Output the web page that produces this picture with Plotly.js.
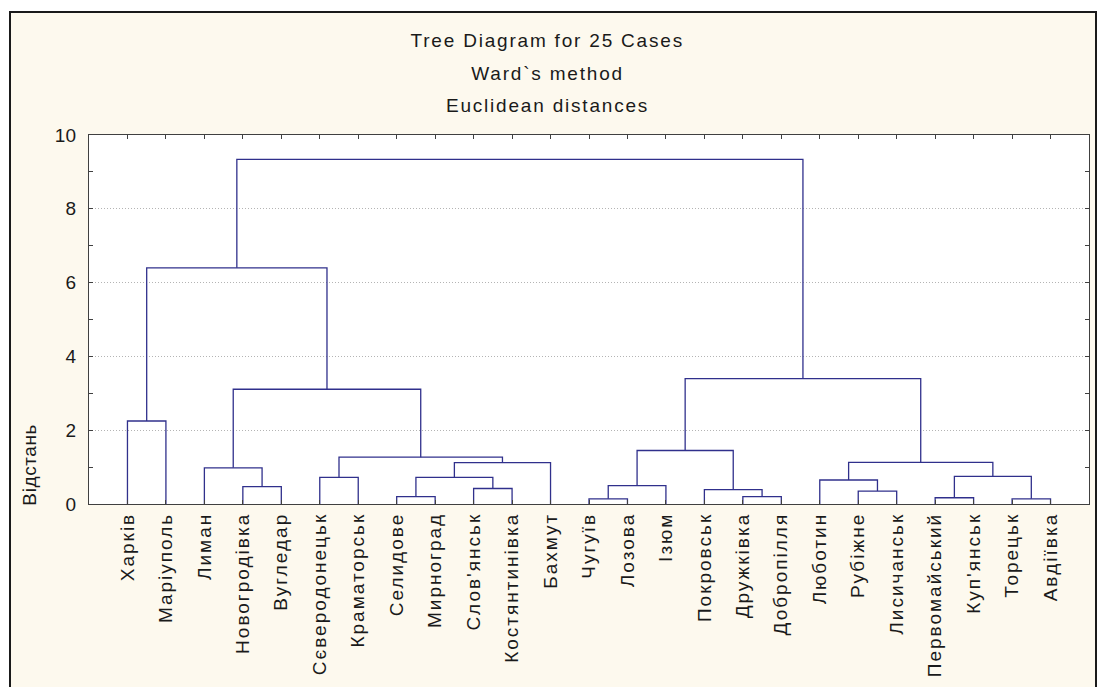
<!DOCTYPE html>
<html>
<head>
<meta charset="utf-8">
<script src="https://cdn.plot.ly/plotly-3.0.1.min.js"></script>
<style>
  html, body { margin: 0; padding: 0; background: #ffffff; }
  #wrap { position: relative; width: 1102px; height: 687px; overflow: hidden; }
  #frame { position: absolute; left: 9px; top: 11px; width: 1088px; height: 690px;
           border: 2px solid #1a1a1a; background: #fdf9ee; box-sizing: border-box; }
  #chart { position: absolute; left: 0; top: 0; width: 1102px; height: 687px; }
  #chart .xtick text { letter-spacing: 2px; }
  #chart g.annotation[data-index="0"] text,
  #chart g.annotation[data-index="1"] text,
  #chart g.annotation[data-index="2"] text { letter-spacing: 1.8px; }
  #chart g.annotation[data-index="3"] text { letter-spacing: 0.6px; }
</style>
</head>
<body>
<div id="wrap">
  <div id="frame"></div>
  <div id="chart"></div>
</div>
<script>
// Leaf labels in dendrogram order
const labels = [
  "Харків", "Маріуполь", "Лиман", "Новогродівка", "Вугледар",
  "Сєверодонецьк", "Краматорськ", "Селидове", "Мирноград", "Слов'янськ",
  "Костянтинівка", "Бахмут", "Чугуїв", "Лозова", "Ізюм",
  "Покровськ", "Дружківка", "Добропілля", "Люботин", "Рубіжне",
  "Лисичанськ", "Первомайський", "Куп'янськ", "Торецьк", "Авдіївка"
];

// Linkage: leaves are 0..24, each merge k creates node 25+k
const mergeA = [12, 23, 21, 7, 16, 19, 15, 9, 3, 25, 18, 5, 28, 27, 2, 37, 35, 36, 34, 0, 39, 43, 44, 47];
const mergeB = [13, 24, 22, 8, 17, 20, 29, 10, 4, 14, 30, 6, 32, 26, 33, 11, 38, 40, 31, 1, 42, 41, 45, 46];
const mergeH = [0.14, 0.14, 0.17, 0.20, 0.20, 0.35, 0.39, 0.42, 0.47, 0.50, 0.65, 0.72, 0.72, 0.75, 0.98, 1.12, 1.13, 1.27, 1.45, 2.25, 3.11, 3.40, 6.40, 9.34];

const yTickVals = [0, 2, 4, 6, 8, 10];

// Build dendrogram polylines
const pos = labels.map((_, i) => i + 1);
const ht = labels.map(() => 0);
const xs = [], ys = [];
for (let k = 0; k < mergeH.length; k++) {
  const a = mergeA[k], b = mergeB[k], h = mergeH[k];
  xs.push(pos[a], pos[a], pos[b], pos[b], null);
  ys.push(ht[a], h, h, ht[b], null);
  pos.push((pos[a] + pos[b]) / 2);
  ht.push(h);
}

const trace = {
  type: 'scatter', mode: 'lines', x: xs, y: ys,
  line: { color: '#30308c', width: 1.3 },
  hoverinfo: 'skip', showlegend: false
};

const font = "'Liberation Sans', Arial, sans-serif";
const txt = '#1a1a1a';
const layout = {
  width: 1102, height: 687,
  margin: { l: 89, r: 13, t: 135, b: 183, pad: 0 },
  paper_bgcolor: 'rgba(0,0,0,0)',
  plot_bgcolor: '#ffffff',
  showlegend: false,
  font: { family: font, color: txt },
  xaxis: {
    range: [0, 26], tickvals: labels.map((_, i) => i + 1), ticktext: labels,
    tickangle: -90, tickfont: { size: 19, family: font, color: txt },
    ticks: 'inside', ticklen: 4, tickcolor: '#404040',
    showline: true, linecolor: '#404040', linewidth: 1.2, mirror: 'allticks',
    showgrid: false, zeroline: false, fixedrange: true
  },
  yaxis: {
    range: [0, 10], tickvals: yTickVals, ticktext: yTickVals.map(String),
    tickfont: { size: 19, family: font, color: txt },
    ticks: 'inside', ticklen: 4, tickcolor: '#404040',
    showline: true, linecolor: '#404040', linewidth: 1.2, mirror: 'allticks',
    showgrid: true, gridcolor: '#b4b4b4', griddash: '1px,2px', gridwidth: 1,
    minor: { dtick: 1, tick0: 0, ticks: 'inside', ticklen: 4, tickcolor: '#404040', showgrid: false },
    zeroline: false, fixedrange: true, ticklabelstandoff: 8
  },
  annotations: [
    { text: 'Tree Diagram for 25 Cases', xref: 'paper', yref: 'paper', x: 0.458, y: 1.257,
      showarrow: false, font: { size: 19, family: font, color: txt }, xanchor: 'center', yanchor: 'middle' },
    { text: 'Ward`s method', xref: 'paper', yref: 'paper', x: 0.458, y: 1.168,
      showarrow: false, font: { size: 19, family: font, color: txt }, xanchor: 'center', yanchor: 'middle' },
    { text: 'Euclidean distances', xref: 'paper', yref: 'paper', x: 0.458, y: 1.079,
      showarrow: false, font: { size: 19, family: font, color: txt }, xanchor: 'center', yanchor: 'middle' },
    { text: 'Відстань', xref: 'paper', yref: 'paper', x: -0.06, y: 0.105, textangle: -90,
      showarrow: false, font: { size: 19, family: font, color: txt }, xanchor: 'center', yanchor: 'middle' }
  ]
};

Plotly.newPlot('chart', [trace], layout, { displayModeBar: false, staticPlot: true });
</script>
</body>
</html>
